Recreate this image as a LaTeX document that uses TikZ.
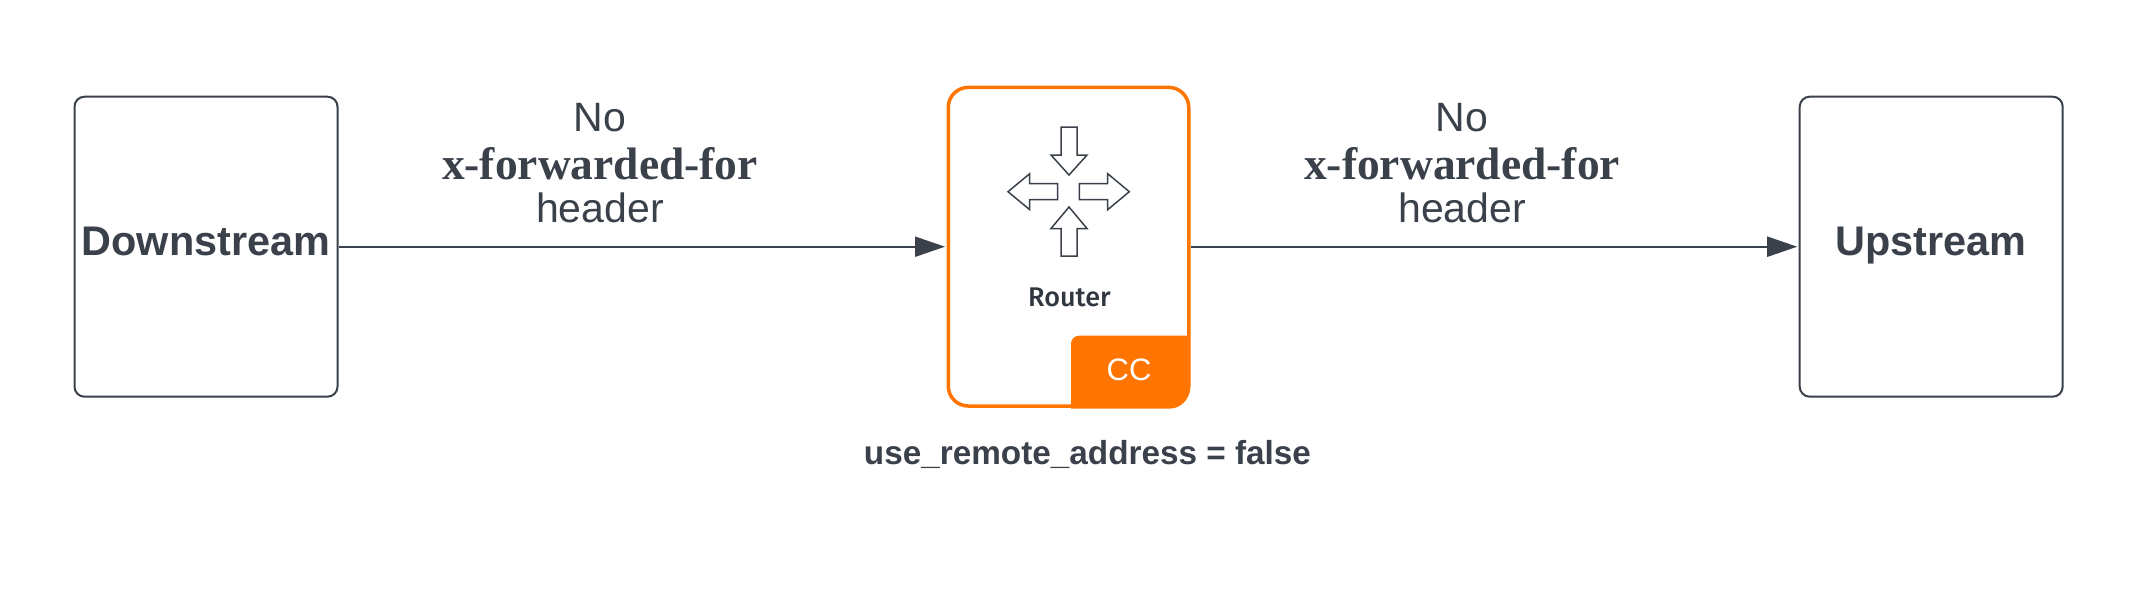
\documentclass[tikz,border=0pt]{standalone}
\usepackage{fontspec}
\usepackage{tikz}
\usetikzlibrary{positioning,arrows.meta}
\setmainfont{Liberation Sans}
\newfontfamily\headerfont{Liberation Serif}
\newfontfamily\routerfont{Fira Sans Medium}
\definecolor{inkgray}{HTML}{3A414A}
\definecolor{routerorange}{HTML}{FF7500}
\tikzset{
    endbox/.style={draw=inkgray, line width=2pt, rounded corners=10pt, minimum width=263pt, minimum height=300pt,
        inner sep=0pt, text height=30pt, text depth=12.4pt, text=inkgray, font=\fontsize{41.4}{47}\selectfont\bfseries},
    routerbox/.style={draw=routerorange, line width=3.5pt, rounded corners=20pt, minimum width=240.5pt, minimum height=318.6pt},
    headerlabel/.style={above, align=center, inner sep=0pt, yshift=23pt, text=inkgray, font=\fontsize{41}{45.5}\selectfont},
    flow/.style={draw=inkgray, line width=2pt, shorten >=1.5pt, -{Triangle[length=30pt, width=20pt]}},
    routericon/.style={draw=inkgray, line width=1.5pt, line join=miter}
}
\newcommand{\noheader}{No\\[3pt]{\headerfont\fontsize{45.5}{45.5}\selectfont\bfseries x-forwarded-for}\\[-3pt]header}
\begin{document}
\begin{tikzpicture}[x=1pt, y=-1pt]
    \useasboundingbox (0,0) rectangle (2138,589);
    \node[endbox] (downstream) at (206,246.7) {Downstream};
    \node[routerbox, right=608pt of downstream] (router) {};
    \node[endbox, right=608.2pt of router] (upstream) {Upstream};
    \draw[flow] (downstream) -- node[headerlabel, pos=.43] (leftlabel) {\noheader} (router);
    \draw[flow] (router) -- node[headerlabel, pos=.4465] (rightlabel) {\noheader} (upstream);
    % router icon
    \draw[routericon] (1061,127) -- (1077,127) -- (1077,155) -- (1087,155) -- (1069,175) -- (1051,155) -- (1061,155) -- cycle;
    \draw[routericon] (1061,256) -- (1077,256) -- (1077,228.5) -- (1087,228.5) -- (1069,207) -- (1051,228.5) -- (1061,228.5) -- cycle;
    \draw[routericon] (1057.7,183.7) -- (1057.7,199.7) -- (1029.7,199.7) -- (1029.7,209.7) -- (1008,191.7) -- (1029.7,173.7) -- (1029.7,183.7) -- cycle;
    \draw[routericon] (1079.3,183.7) -- (1079.3,199.7) -- (1107.7,199.7) -- (1107.7,209.7) -- (1129.3,191.7) -- (1107.7,173.7) -- (1107.7,183.7) -- cycle;
    \node[text=inkgray!85!black, font=\routerfont\fontsize{27}{30}\selectfont] (routername) at (1069.5,297) {Router};
    % CC corner
    \fill[routerorange] (1071,408.7) [rounded corners=8pt] -- (1071,335.7) [sharp corners] -- (1190,335.7) [rounded corners=21pt] -- (1190,408.7) [sharp corners] -- cycle;
    \node[text=white, font=\fontsize{31}{34}\selectfont] (badge) at (1129,370) {CC};
    \node[below=29pt of router, xshift=19pt, text=inkgray, font=\fontsize{33.3}{38}\selectfont\bfseries] (remoteaddr) {use\_remote\_address = false};
\end{tikzpicture}
\end{document}
